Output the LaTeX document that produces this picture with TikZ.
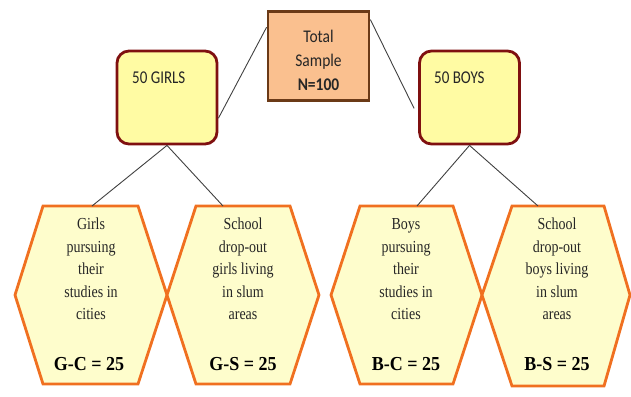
\documentclass[tikz,border=0pt]{standalone}
\usepackage{fontspec}
\setmainfont{Liberation Serif}
\newfontfamily\carlito{Carlito}
\definecolor{totalfill}{HTML}{FAC08F}
\definecolor{totaldraw}{HTML}{6B3A17}
\definecolor{boxfill}{HTML}{FFFBA3}
\definecolor{boxdraw}{HTML}{7F1010}
\definecolor{hexfill}{HTML}{FEFDCC}
\definecolor{hexdraw}{HTML}{F07020}
\definecolor{txt}{HTML}{262626}
\definecolor{linkc}{HTML}{404040}
\newcommand\tallstack[2]{\scalebox{1}[#1]{\begin{tabular}{@{}c@{}}#2\end{tabular}}}
\begin{document}
\begin{tikzpicture}[x=1pt,y=-1pt,
  totalbox/.style={draw=totaldraw,fill=totalfill,line width=2.8pt,minimum width=101pt,minimum height=89pt,inner sep=0pt},
  totaltextstyle/.style={inner sep=0pt,text=txt,font=\carlito\fontsize{15.5}{20.9}\selectfont},
  groupbox/.style={draw=boxdraw,fill=boxfill,line width=2.8pt,rounded corners=12pt,minimum width=100pt,minimum height=93pt,inner sep=0pt},
  grouplabel/.style={anchor=west,inner sep=0pt,text=txt,font=\carlito\fontsize{15}{18}\selectfont},
  hex/.style={draw=hexdraw,fill=hexfill,line width=2.8pt,line join=miter},
  hextext/.style={anchor=north,inner sep=0pt,text=txt,font=\fontsize{14}{18.75}\selectfont},
  hexcount/.style={inner sep=0pt,text=black,font=\bfseries\fontsize{18}{20}\selectfont},
  link/.style={draw=linkc,line width=0.9pt}]
\useasboundingbox (0,0) rectangle (631,396);

% hexagons
\draw[hex] (15,295) -- (43,206) -- (138,206) -- (167,295) -- (138,384) -- (43,384) -- cycle;
\draw[hex] (167,295) -- (196,206) -- (290,206) -- (319,295) -- (290,384) -- (196,384) -- cycle;
\draw[hex] (331,295) -- (360,206) -- (453,206) -- (482,295) -- (453,384) -- (360,384) -- cycle;
\draw[hex] (482,295) -- (512,206) -- (604,206) -- (630,295) -- (604,386) -- (512,386) -- cycle;

\coordinate (gctop) at (92,206);
\coordinate (gstop) at (223,206);
\coordinate (bctop) at (417,206);
\coordinate (bstop) at (538,206);

\node[hextext] (gctext) at (91,214) {\tallstack{1.2}{Girls\\pursuing\\their\\studies in\\cities}};
\node[hextext] (gstext) at (243,214) {\tallstack{1.2}{School\\drop-out\\girls living\\in slum\\areas}};
\node[hextext] (bctext) at (406,214) {\tallstack{1.2}{Boys\\pursuing\\their\\studies in\\cities}};
\node[hextext] (bstext) at (557,214) {\tallstack{1.2}{School\\drop-out\\boys living\\in slum\\areas}};

\node[hexcount] (gccount) at (89,364) {\scalebox{1}[1.1]{G-C = 25}};
\node[hexcount] (gscount) at (243,364) {\scalebox{1}[1.1]{G-S = 25}};
\node[hexcount] (bccount) at (406,364) {\scalebox{1}[1.1]{B-C = 25}};
\node[hexcount] (bscount) at (557,364) {\scalebox{1}[1.1]{B-S = 25}};

% boxes
\node[totalbox] (total) at (318.5,56) {};
\node[totaltextstyle] (totaltext) at (318.5,61.5) {\tallstack{1.15}{Total\\Sample\\\textbf{N=100}}};
\node[groupbox] (girls) at (167,97.5) {};
\node[groupbox] (boys) at (469.5,97.5) {};
\node[grouplabel] (girlslbl) at (132,78) {\scalebox{1}[1.2]{50 GIRLS}};
\node[grouplabel] (boyslbl) at (434,78) {\scalebox{1}[1.2]{50 BOYS}};

% connectors
\draw[link] (total.151) -- (girls.-22);
\draw[link] (total.35) -- ([xshift=-4pt]boys.192);
\draw[link] (girls.south) -- (gctop);
\draw[link] (girls.south) -- (gstop);
\draw[link] (boys.south) -- (bctop);
\draw[link] (boys.south) -- (bstop);
\end{tikzpicture}
\end{document}
